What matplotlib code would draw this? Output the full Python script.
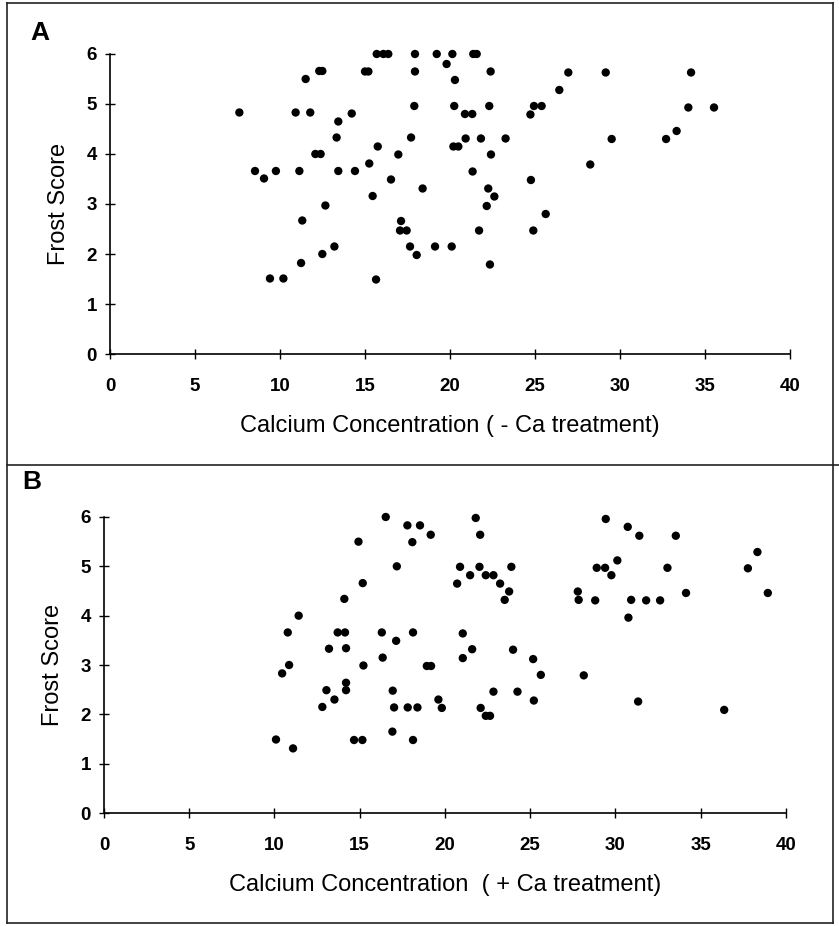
import matplotlib.pyplot as plt
from matplotlib.lines import Line2D

# Panel A: - Ca treatment
ca_minus = [7.61, 8.53, 9.06, 9.76, 9.41, 10.2, 10.92, 11.14, 11.31, 11.24,
            11.51, 11.78, 12.31, 12.49, 12.08, 12.39, 12.67, 12.49, 13.2, 13.33,
            13.43, 13.43, 15.69, 16.08, 16.37, 17.94, 19.22, 20.14, 21.37, 21.57,
            19.8, 15.0, 15.2, 17.94, 20.29, 22.39, 26.96, 26.43, 17.9, 20.25,
            20.88, 21.31, 22.31, 24.94, 25.39, 24.73, 14.22, 15.75, 17.71, 16.96,
            20.2, 20.49, 20.92, 21.82, 23.27, 22.41, 14.41, 15.25, 16.53, 15.45,
            18.39, 21.33, 24.76, 22.25, 22.61, 22.16, 25.63, 17.12, 17.06, 17.45,
            21.71, 24.9, 17.65, 18.04, 19.12, 20.1, 22.35, 15.65, 29.16, 34.18,
            34.02, 35.53, 33.33, 32.71, 29.51, 28.25]
frost_minus = [4.83, 3.66, 3.51, 3.66, 1.51, 1.51, 4.83, 3.66, 2.67, 1.82,
               5.5, 4.83, 5.66, 5.66, 4.0, 4.0, 2.97, 2.0, 2.15, 4.33,
               4.65, 3.66, 6.0, 6.0, 6.0, 6.0, 6.0, 6.0, 6.0, 6.0,
               5.8, 5.65, 5.65, 5.65, 5.48, 5.65, 5.63, 5.28, 4.96, 4.96,
               4.8, 4.8, 4.96, 4.96, 4.96, 4.79, 4.81, 4.15, 4.33, 3.99,
               4.15, 4.15, 4.31, 4.31, 4.31, 3.99, 3.66, 3.81, 3.49, 3.16,
               3.31, 3.65, 3.48, 3.31, 3.15, 2.96, 2.8, 2.66, 2.47, 2.47,
               2.47, 2.47, 2.15, 1.98, 2.15, 2.15, 1.79, 1.49, 5.63, 5.63,
               4.93, 4.93, 4.46, 4.3, 4.3, 3.79]

# Panel B: + Ca treatment
ca_plus = [10.09, 11.09, 10.45, 10.86, 10.78, 11.42, 13.2, 13.71, 13.05, 13.52,
           12.81, 16.53, 17.8, 18.54, 18.09, 19.17, 14.93, 17.18, 15.18, 14.1,
           14.14, 16.3, 17.14, 18.13, 16.35, 15.22, 18.94, 19.19, 14.2, 14.2,
           14.2, 16.94, 17.02, 17.82, 18.39, 19.62, 19.82, 16.92, 14.67, 15.16,
           18.13, 21.81, 22.07, 20.89, 21.48, 22.03, 22.4, 22.85, 23.24, 23.9,
           23.77, 23.51, 20.72, 27.8, 27.85, 21.05, 21.6, 21.05, 24.0, 25.18,
           25.63, 22.85, 24.26, 25.22, 22.1, 22.4, 22.65, 29.44, 30.73, 31.41,
           33.55, 30.12, 28.91, 29.4, 29.77, 33.06, 38.34, 37.78, 38.95, 34.15,
           28.82, 30.93, 31.81, 32.63, 30.77, 28.15, 31.34, 36.39]
frost_plus = [1.49, 1.31, 2.83, 3.0, 3.66, 4.0, 3.33, 3.66, 2.49, 2.3,
              2.15, 6.0, 5.83, 5.83, 5.49, 5.64, 5.5, 5.0, 4.66, 4.34,
              3.66, 3.66, 3.49, 3.66, 3.15, 2.99, 2.98, 2.98, 2.64, 2.49,
              3.34, 2.48, 2.14, 2.14, 2.14, 2.3, 2.13, 1.65, 1.48, 1.48,
              1.48, 5.98, 5.64, 4.99, 4.82, 4.99, 4.82, 4.82, 4.65, 4.99,
              4.49, 4.32, 4.65, 4.49, 4.32, 3.64, 3.32, 3.14, 3.31, 3.12,
              2.8, 2.46, 2.46, 2.28, 2.13, 1.97, 1.97, 5.96, 5.8, 5.62,
              5.62, 5.12, 4.97, 4.97, 4.82, 4.97, 5.29, 4.96, 4.46, 4.46,
              4.31, 4.32, 4.31, 4.31, 3.96, 2.79, 2.26, 2.09]

x_ticks = [0, 5, 10, 15, 20, 25, 30, 35, 40]
y_ticks = [0, 1, 2, 3, 4, 5, 6]

plt.rcParams.update({
    'font.family': ['Liberation Sans', 'DejaVu Sans'],
})


def draw_panel(ax, xs, ys, xlabel):
    ax.scatter(xs, ys, s=36, color='black', edgecolors='none', zorder=3,
               clip_on=False)
    ax.set_xlim(0, 40)
    ax.set_ylim(0, 6)
    ax.set_xticks(x_ticks)
    ax.set_yticks(y_ticks)
    ax.spines['top'].set_visible(False)
    ax.spines['right'].set_visible(False)
    ax.spines['left'].set_linewidth(1.2)
    ax.spines['bottom'].set_linewidth(1.2)
    ax.tick_params(axis='x', direction='inout', length=7, width=1, pad=14,
                   labelsize=13.5)
    ax.tick_params(axis='y', direction='inout', length=7, width=1, pad=6,
                   labelsize=13.5)
    for lab in ax.get_xticklabels() + ax.get_yticklabels():
        lab.set_fontweight('bold')
    ax.set_xlabel(xlabel, fontsize=17, labelpad=14)
    ax.set_ylabel("Frost Score", fontsize=17, labelpad=12)


fig = plt.figure(figsize=(8.39, 9.26), dpi=100)

ax_a = fig.add_axes([0.1311, 0.6177, 0.8105, 0.324])
draw_panel(ax_a, ca_minus, frost_minus, "Calcium Concentration ( - Ca treatment)")

ax_b = fig.add_axes([0.124, 0.122, 0.8125, 0.3197])
draw_panel(ax_b, ca_plus, frost_plus, "Calcium Concentration  ( + Ca treatment)")

# panel labels
fig.text(0.036, 0.964, "A", fontsize=19, fontweight='bold', va='center')
fig.text(0.027, 0.479, "B", fontsize=19, fontweight='bold', va='center')

# outer frame and divider
frame_kw = dict(color='#222222', linewidth=1.2, transform=fig.transFigure)
fig.add_artist(Line2D([0.0083, 0.993], [0.9968, 0.9968], **frame_kw))
fig.add_artist(Line2D([0.0083, 0.0083], [0.003, 0.9968], **frame_kw))
fig.add_artist(Line2D([0.993, 0.993], [0.003, 0.9968], **frame_kw))
fig.add_artist(Line2D([0.0083, 0.993], [0.003, 0.003], **frame_kw))
fig.add_artist(Line2D([0.0083, 1.0], [0.4978, 0.4978], **frame_kw))

fig.savefig("out.png", dpi=100, facecolor='white')
